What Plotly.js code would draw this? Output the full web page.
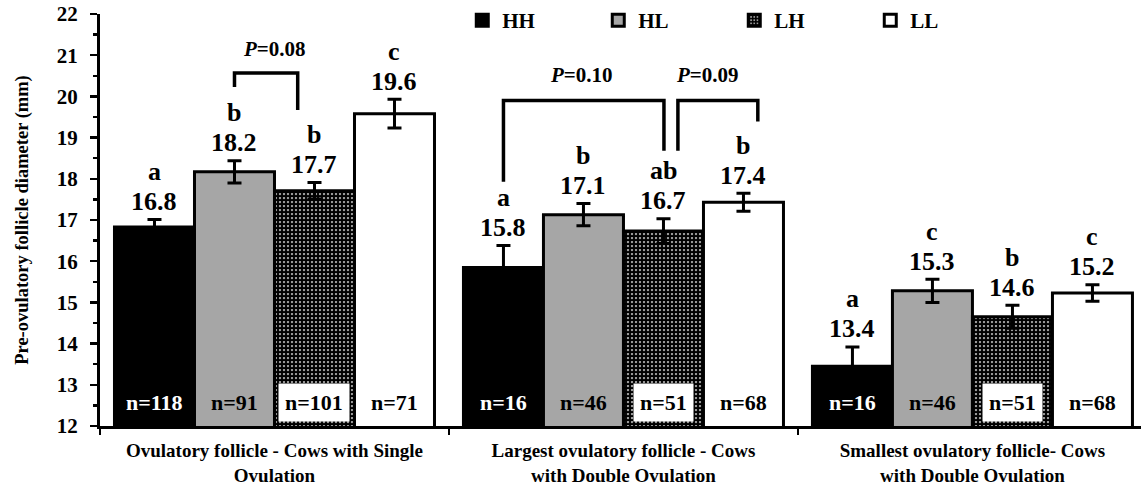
<!DOCTYPE html>
<html>
<head>
<meta charset="utf-8">
<script src="https://cdn.plot.ly/plotly-3.0.1.min.js"></script>
<style>html,body{margin:0;padding:0;background:#fff;}#chart{width:1141px;height:489px;}</style>
</head>
<body>
<div id="chart"></div>
<script>
// ---- data ----
const categories = [
  'Ovulatory follicle - Cows with Single<br>Ovulation',
  'Largest ovulatory follicle - Cows<br>with Double Ovulation',
  'Smallest ovulatory follicle- Cows<br>with Double Ovulation'
];
const seriesNames = ['HH', 'HL', 'LH', 'LL'];
const HH = [16.83, 15.85, 13.45];
const HL = [18.17, 17.13, 15.28];
const LH = [17.71, 16.73, 14.65];
const LL = [19.58, 17.43, 15.23];
const HHerr = [0.18, 0.53, 0.47];
const HLerr = [0.27, 0.27, 0.28];
const LHerr = [0.20, 0.30, 0.28];
const LLerr = [0.35, 0.22, 0.20];
const HHlabel = ['16.8', '15.8', '13.4'];
const HLlabel = ['18.2', '17.1', '15.3'];
const LHlabel = ['17.7', '16.7', '14.6'];
const LLlabel = ['19.6', '17.4', '15.2'];
const HHletter = ['a', 'a', 'a'];
const HLletter = ['b', 'b', 'c'];
const LHletter = ['b', 'ab', 'b'];
const LLletter = ['c', 'b', 'c'];
const HHn = [118, 16, 16];
const HLn = [91, 46, 46];
const LHn = [101, 51, 51];
const LLn = [71, 68, 68];
const pLabels = ['0.08', '0.10', '0.09'];

// ---- styling ----
const FONT = 'Liberation Serif, Times New Roman, serif';
const BARGAP = 0.083;
const BW = (1 - BARGAP) / 4;
const values = [HH, HL, LH, LL];
const errs = [HHerr, HLerr, LHerr, LLerr];
const labels = [HHlabel, HLlabel, LHlabel, LLlabel];
const letters = [HHletter, HLletter, LHletter, LLletter];
const ns = [HHn, HLn, LHn, LLn];
const markers = [
  {color: '#000000', line: {color: '#000', width: 3}},
  {color: '#a6a6a6', line: {color: '#000', width: 3}},
  {color: '#ffffff', line: {color: '#000', width: 3},
   pattern: {shape: '.', fgcolor: '#000', bgcolor: '#fff', size: 4, solidity: 0.8}},
  {color: '#ffffff', line: {color: '#000', width: 3}}
];

const traces = seriesNames.map((name, k) => ({
  type: 'bar', name: name, x: categories, y: values[k],
  marker: markers[k],
  error_y: {type: 'data', array: errs[k], visible: true, color: '#000', thickness: 3, width: 7},
  hoverinfo: 'skip'
}));

const annotations = [];
const xOf = (i, k) => i + (k - 1.5) * BW;
seriesNames.forEach((name, k) => {
  for (let i = 0; i < categories.length; i++) {
    const top = values[k][i] + errs[k][i];
    annotations.push({
      x: xOf(i, k), y: top, xref: 'x', yref: 'y',
      text: labels[k][i], showarrow: false, yanchor: 'middle', yshift: 18,
      font: {family: FONT, size: 26, weight: 'bold', color: '#000'}
    });
    annotations.push({
      x: xOf(i, k), y: top, xref: 'x', yref: 'y',
      text: letters[k][i], showarrow: false, yanchor: 'middle', yshift: 48,
      font: {family: FONT, size: 26, weight: 'bold', color: '#000'}
    });
    const nAnn = {
      x: xOf(i, k), y: 12.58, xref: 'x', yref: 'y',
      text: 'n=' + ns[k][i], showarrow: false, yanchor: 'middle',
      font: {family: FONT, size: 22, weight: 'bold', color: k === 0 ? '#fff' : '#000'}
    };
    if (k === 2) { nAnn.bgcolor = '#fff'; nAnn.borderpad = 6; }
    annotations.push(nAnn);
  }
});

// brackets (annotation geometry)
const brackets = [
  {x0: xOf(0, 1), x1: 0.0665, yTop: 20.57, y0b: 20.23, y1b: 19.67, lx: 0.0, ly: 21.15, t: pLabels[0]},
  {x0: xOf(1, 0), x1: 1 + 0.116, yTop: 19.90, y0b: 17.93, y1b: 18.68, lx: 1 - 0.12, ly: 20.52, t: pLabels[1]},
  {x0: 1 + 0.156, x1: 1 + 0.385, yTop: 19.90, y0b: 18.68, y1b: 19.39, lx: 1 + 0.242, ly: 20.52, t: pLabels[2]}
];
const shapes = [];
brackets.forEach(b => {
  shapes.push({type: 'path', xref: 'x', yref: 'y',
    path: `M${b.x0},${b.y0b} L${b.x0},${b.yTop} L${b.x1},${b.yTop} L${b.x1},${b.y1b}`,
    line: {color: '#000', width: 3.5}});
  annotations.push({x: b.lx, y: b.ly, xref: 'x', yref: 'y', showarrow: false,
    text: '<i>P</i>=' + b.t,
    font: {family: FONT, size: 21, weight: 'bold', color: '#000'}});
});

const layout = {
  width: 1141, height: 489,
  margin: {l: 100, r: 0, t: 14, b: 63},
  paper_bgcolor: '#fff', plot_bgcolor: '#fff',
  barmode: 'group', bargap: BARGAP, bargroupgap: 0,
  font: {family: FONT, color: '#000'},
  showlegend: true,
  legend: {orientation: 'h', x: 0.348, xanchor: 'left', y: 1.035, yanchor: 'top',
    font: {family: FONT, size: 21, weight: 'bold'}, entrywidth: 91, entrywidthmode: 'pixels',
    itemwidth: 30, bgcolor: 'rgba(0,0,0,0)', traceorder: 'normal'},
  xaxis: {
    type: 'category', range: [-0.5, 2.483], showline: true, linewidth: 3, linecolor: '#000',
    ticks: 'outside', tickson: 'boundaries', ticklen: 6, tickwidth: 2.5, tickcolor: '#000',
    showgrid: false, zeroline: false, ticklabelstandoff: 5,
    tickfont: {family: FONT, size: 19, weight: 'bold', color: '#000'}
  },
  yaxis: {
    range: [12, 22], dtick: 1, showline: true, linewidth: 3, linecolor: '#000',
    ticks: 'outside', ticklen: 7, tickwidth: 2.5, tickcolor: '#000',
    minor: {ticks: 'outside', dtick: 0.5, ticklen: 4, tickwidth: 2.5, tickcolor: '#000', showgrid: false},
    showgrid: false, zeroline: false, ticklabelstandoff: 8,
    tickfont: {family: FONT, size: 21, weight: 'bold', color: '#000'},
    title: {text: 'Pre-ovulatory follicle diameter (mm)', standoff: 24,
      font: {family: FONT, size: 18.5, weight: 'bold', color: '#000'}}
  },
  annotations: annotations,
  shapes: shapes
};

Plotly.newPlot('chart', traces, layout, {displayModeBar: false, staticPlot: true});
</script>
</body>
</html>
